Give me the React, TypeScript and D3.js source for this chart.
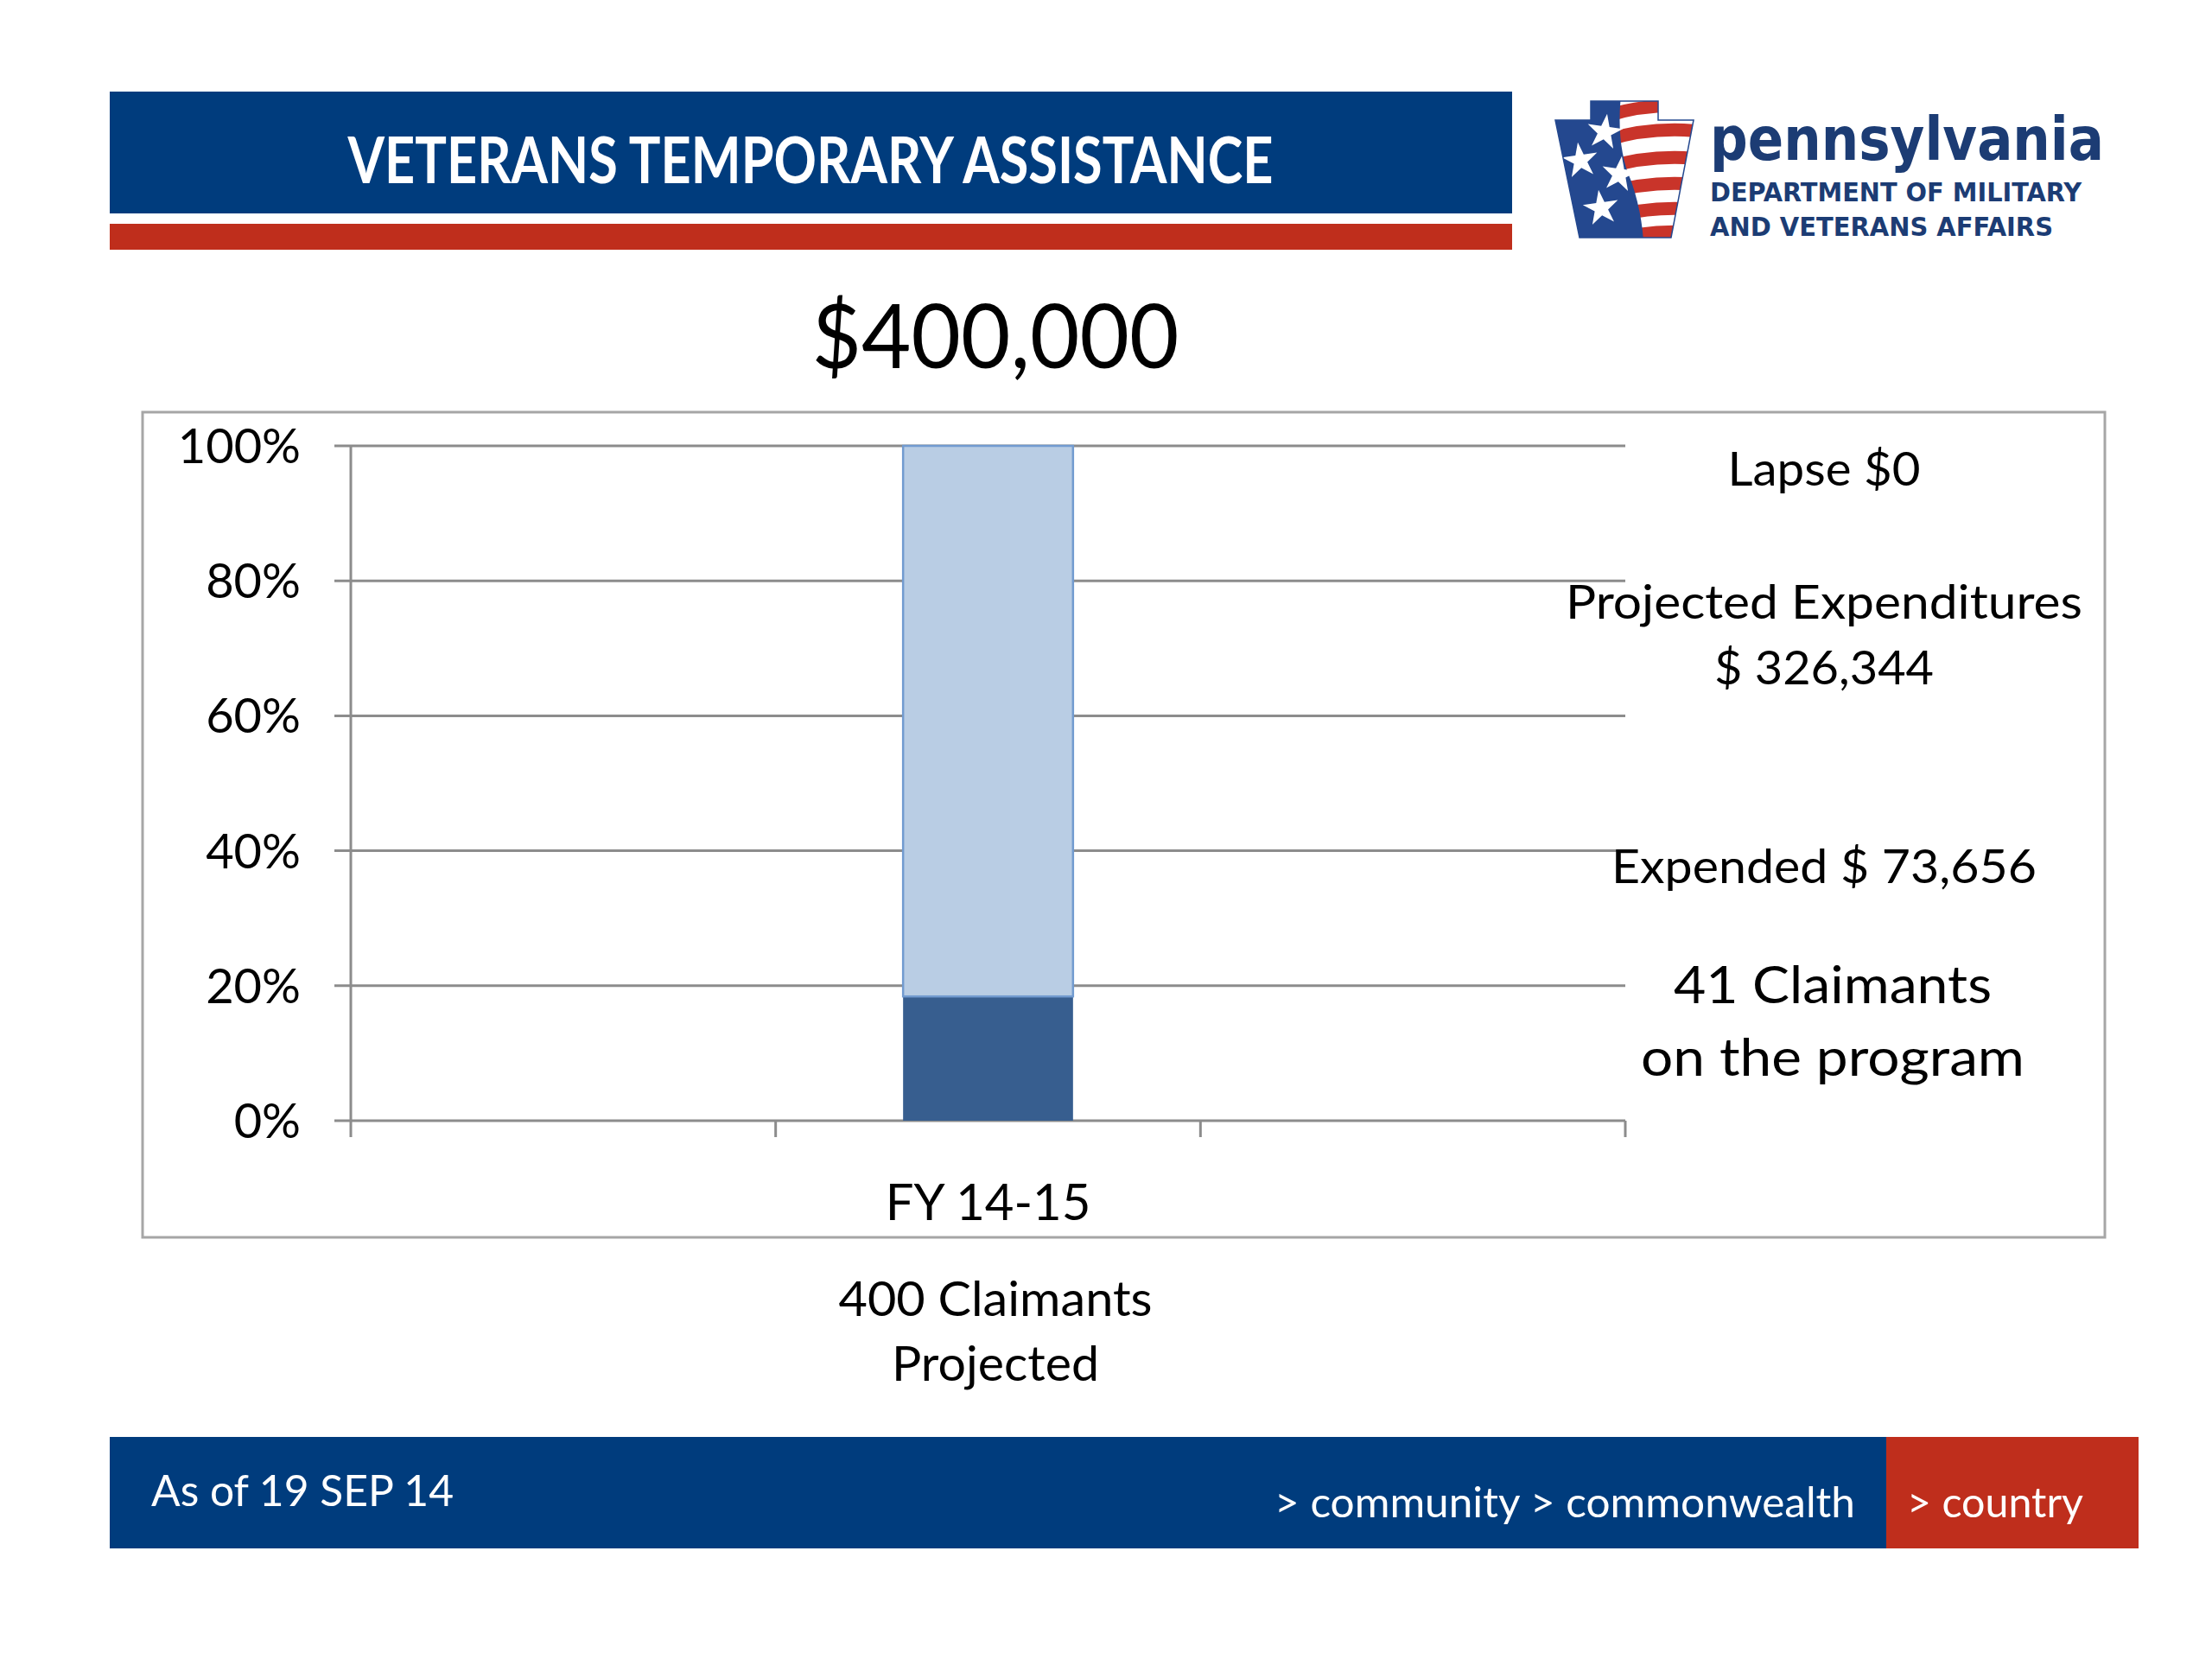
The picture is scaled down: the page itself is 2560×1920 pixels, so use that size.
import React from 'react';
import * as d3 from 'd3';

// chart data
const categories = ['', 'FY 14-15', ' '];
const expended = [0, 73656, 0];
const projected = [0, 326344, 0];
const lapse = [0, 0, 0];
const seriesKeys = ['Expended', 'Projected', 'Lapse'];
const yTicks = [0, 0.2, 0.4, 0.6, 0.8, 1];

const FONT = "Lato, 'Open Sans', sans-serif";
const LOGO_FONT = "'DejaVu Sans Condensed', 'DejaVu Sans', sans-serif";

const fills: Record<string, string> = { Expended: '#375E8F', Projected: '#B9CDE4', Lapse: '#8DB3E2' };
const strokes: Record<string, string> = { Expended: '#375E8F', Projected: '#729BD0', Lapse: '#729BD0' };

const Logo = () => {
  const keystone = 'M1841,117 L1919,117 L1919,139 L1960,139 L1934,275 L1828,275 L1800,139 L1841,139 Z';
  const stripeYs = [128, 156, 188, 218, 247, 274];
  const stars = [[1857, 153], [1829, 186], [1874, 202], [1853, 241]];
  const star = d3.symbol().type(d3.symbolStar).size(520)();
  return (
    <g>
      <defs>
        <clipPath id="ks"><path d={keystone} /></clipPath>
      </defs>
      <g clipPath="url(#ks)">
        <rect x={1795} y={110} width={170} height={170} fill="#fff" />
        {stripeYs.map((sy, i) => (
          <path key={i} d={`M1860,${sy + 6} Q1910,${sy - 10} 1970,${sy - 4}`} stroke="#C9342A" strokeWidth={15} fill="none" />
        ))}
        <path d="M1795,110 L1876,110 Q1870,170 1888,210 Q1900,245 1902,280 L1795,280 Z" fill="#24488F" />
        {stars.map(([sx, sy], i) => (
          <path key={i} d={star || ''} transform={`translate(${sx},${sy}) rotate(${i % 2 ? -8 : 8})`} fill="#fff" />
        ))}
      </g>
      <path d={keystone} fill="none" stroke="#24488F" strokeWidth={1.5} />
      <text x={1979} y={185} fontFamily={LOGO_FONT} fontWeight={700} fontSize={70} fill="#1C3C74" textLength={456} lengthAdjust="spacingAndGlyphs">pennsylvania</text>
      <text x={1979} y={233} fontFamily={LOGO_FONT} fontWeight={700} fontSize={31} fill="#1C3C74" textLength={430} lengthAdjust="spacingAndGlyphs">DEPARTMENT OF MILITARY</text>
      <text x={1979} y={273} fontFamily={LOGO_FONT} fontWeight={700} fontSize={31} fill="#1C3C74" textLength={397} lengthAdjust="spacingAndGlyphs">AND VETERANS AFFAIRS</text>
    </g>
  );
};

export default function App() {
  const x = d3.scaleBand<string>().domain(categories).range([406, 1881]).padding(0);
  const y = d3.scaleLinear().domain([0, 1]).range([1297, 516]);
  const pct = d3.format('.0%');

  const rows = categories.map((c, i) => ({ cat: c, Expended: expended[i], Projected: projected[i], Lapse: lapse[i] }));
  const layers = d3.stack<any>().keys(seriesKeys).offset(d3.stackOffsetExpand)(rows);
  const barW = x.bandwidth() * 0.4;

  const boundaries = categories.map((c) => x(c)!).concat([x.range()[1]]);

  return (
    <div style={{ position: 'absolute', left: 0, top: 0 }}>
      <svg width={2560} height={1920} style={{ display: 'block', background: '#fff' }}>
        {/* header */}
        <rect x={127} y={106} width={1623} height={141} fill="#003C7D" />
        <rect x={127} y={259} width={1623} height={30} fill="#BF2E1C" />
        <text x={938} y={212} textAnchor="middle" fontFamily={FONT} fontWeight={700} fontSize={74} fill="#fff" textLength={1071} lengthAdjust="spacingAndGlyphs">VETERANS TEMPORARY ASSISTANCE</text>
        <Logo />

        {/* total */}
        <text x={1152} y={426} textAnchor="middle" fontFamily={FONT} fontSize={102} fill="#000" textLength={425} lengthAdjust="spacingAndGlyphs">$400,000</text>

        {/* chart frame */}
        <rect x={165} y={477} width={2271} height={955} fill="#fff" stroke="#A6A6A6" strokeWidth={3} />

        {/* gridlines + y labels */}
        {yTicks.map((t) => (
          <g key={t}>
            <line x1={387} x2={1881} y1={y(t)} y2={y(t)} stroke="#8C8C8C" strokeWidth={3} />
            <text x={348} y={y(t) + 20} textAnchor="end" fontFamily={FONT} fontSize={56} fill="#000">{pct(t)}</text>
          </g>
        ))}
        <line x1={406} x2={406} y1={y(1)} y2={1316} stroke="#8C8C8C" strokeWidth={3} />
        {boundaries.slice(1).map((bx, i) => (
          <line key={i} x1={bx} x2={bx} y1={y(0)} y2={1316} stroke="#8C8C8C" strokeWidth={3} />
        ))}

        {/* stacked bars */}
        {layers.map((layer) => (
          <g key={layer.key}>
            {layer.map((d, i) => {
              const h = y(d[0]) - y(d[1]);
              if (!(h > 0)) return null;
              const cx = x(categories[i])! + x.bandwidth() / 2;
              return (
                <rect key={i} x={cx - barW / 2} y={y(d[1])} width={barW} height={h}
                  fill={fills[layer.key]} stroke={strokes[layer.key]} strokeWidth={layer.key === 'Expended' ? 0 : 2.5} />
              );
            })}
          </g>
        ))}

        {/* category labels */}
        {categories.map((c) => (
          <text key={c} x={x(c)! + x.bandwidth() / 2} y={1412} textAnchor="middle" fontFamily={FONT} fontSize={58} fill="#000">{c.trim()}</text>
        ))}

        {/* right annotations */}
        <g fontFamily={FONT} fill="#000" textAnchor="middle">
          <text x={2111} y={562} fontSize={54} textLength={223} lengthAdjust="spacingAndGlyphs">Lapse $0</text>
          <text x={2111} y={716} fontSize={54} textLength={598} lengthAdjust="spacingAndGlyphs">Projected Expenditures</text>
          <text x={2111} y={792} fontSize={54} textLength={254} lengthAdjust="spacingAndGlyphs">$ 326,344</text>
          <text x={2111} y={1022} fontSize={54} textLength={492} lengthAdjust="spacingAndGlyphs">Expended $ 73,656</text>
          <text x={2121} y={1161} fontSize={60} textLength={368} lengthAdjust="spacingAndGlyphs">41 Claimants</text>
          <text x={2121} y={1245} fontSize={60} textLength={444} lengthAdjust="spacingAndGlyphs">on the program</text>
        </g>

        {/* below chart */}
        <g fontFamily={FONT} fill="#000" textAnchor="middle">
          <text x={1152} y={1523} fontSize={56} textLength={363} lengthAdjust="spacingAndGlyphs">400 Claimants</text>
          <text x={1152} y={1598} fontSize={56} textLength={240} lengthAdjust="spacingAndGlyphs">Projected</text>
        </g>

        {/* footer */}
        <rect x={127} y={1663} width={2056} height={129} fill="#003C7D" />
        <rect x={2183} y={1663} width={292} height={129} fill="#BF2E1C" />
        <text x={175} y={1743} fontFamily={FONT} fontSize={51} fill="#fff" textLength={350} lengthAdjust="spacingAndGlyphs">As of 19 SEP 14</text>
        <text x={1475} y={1756} fontFamily={FONT} fontSize={48} fill="#fff" textLength={672} lengthAdjust="spacingAndGlyphs">&gt; community &gt; commonwealth</text>
        <text x={2207} y={1756} fontFamily={FONT} fontSize={48} fill="#fff" textLength={204} lengthAdjust="spacingAndGlyphs">&gt; country</text>
      </svg>
    </div>
  );
}
